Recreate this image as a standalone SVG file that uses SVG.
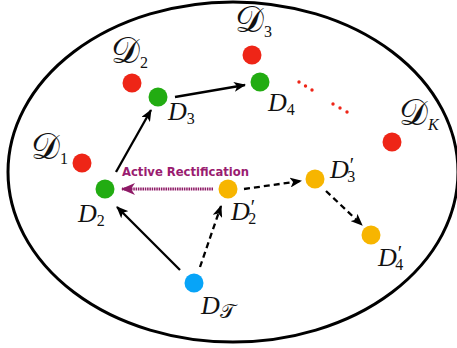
<svg xmlns="http://www.w3.org/2000/svg" width="457" height="348" viewBox="0 0 457 348">
  <defs>
    <marker id="ah" viewBox="0 0 12 10" refX="11" refY="5" markerWidth="12" markerHeight="10" markerUnits="userSpaceOnUse" orient="auto">
      <path d="M0,0 L12,5 L0,10 L3,5 Z" fill="#000"/>
    </marker>
    <marker id="ahp" viewBox="0 0 14 12" refX="13" refY="6" markerWidth="14" markerHeight="12" markerUnits="userSpaceOnUse" orient="auto">
      <path d="M0,0 L14,6 L0,12 L4,6 Z" fill="#8E1A66"/>
    </marker>
    <style>
      .red { fill: #EE2517; }
      .green { fill: #22AC12; }
      .yellow { fill: #F7B500; }
      .blue { fill: #07A4F8; }
      .solid { stroke: #000; stroke-width: 2.3; fill: none; marker-end: url(#ah); }
      .dash { stroke: #000; stroke-width: 2.3; fill: none; stroke-dasharray: 6 4; marker-end: url(#ah); }
      .lbl { font-family: "Liberation Serif", "DejaVu Serif", serif; font-style: italic; font-size: 26px; fill: #111; }
      .sub { font-size: 16px; font-style: normal; }
      .subi { font-size: 16px; }
      .pr { font-size: 20px; font-style: normal; }
      .cal { font-family: "DejaVu Serif", "Liberation Serif", serif; font-style: normal; font-size: 36px; }
      .note { font-family: "DejaVu Sans", sans-serif; font-weight: bold; font-size: 11.6px; fill: #9A1C70; }
      .ell { fill: #EE2517; }
    </style>
  </defs>

  <!-- outer region -->
  <ellipse cx="233" cy="172" rx="225" ry="170" fill="none" stroke="#000" stroke-width="3"/>

  <!-- connectors -->
  <g id="connectors">
    <line class="solid" x1="116" y1="172" x2="151" y2="110"/>
    <line class="solid" x1="175" y1="97" x2="245" y2="85"/>
    <line class="solid" x1="180" y1="270" x2="117" y2="207"/>
    <line class="dash" x1="200" y1="267" x2="221" y2="206"/>
    <line class="dash" x1="244" y1="189" x2="301" y2="181"/>
    <line class="dash" x1="326" y1="191" x2="362" y2="225"/>
    <line x1="213" y1="189" x2="122" y2="189" stroke="#8E1A66" stroke-width="3" stroke-dasharray="1.5 0.8" marker-end="url(#ahp)"/>
    <text class="note" x="122" y="176">Active Rectification</text>
    <!-- ellipsis between D4 and DK -->
    <g class="ell">
      <circle cx="299" cy="82" r="1.7"/>
      <circle cx="305.5" cy="86" r="1.7"/>
      <circle cx="312" cy="90" r="1.7"/>
      <circle cx="333" cy="104" r="1.7"/>
      <circle cx="340" cy="108" r="1.7"/>
      <circle cx="347" cy="112" r="1.7"/>
    </g>
  </g>

  <!-- nodes -->
  <g id="cD1"><circle class="red" cx="82" cy="163" r="9.5"/><text class="lbl" x="31" y="159"><tspan class="cal">𝒟</tspan><tspan class="sub" dy="5">1</tspan></text></g>
  <g id="cD2"><circle class="red" cx="132" cy="83" r="9.5"/><text class="lbl" x="111" y="63"><tspan class="cal">𝒟</tspan><tspan class="sub" dy="5">2</tspan></text></g>
  <g id="cD3"><circle class="red" cx="252" cy="55" r="9.5"/><text class="lbl" x="235" y="32"><tspan class="cal">𝒟</tspan><tspan class="sub" dy="5">3</tspan></text></g>
  <g id="cDK"><circle class="red" cx="392" cy="142" r="9.5"/><text class="lbl" x="399" y="125"><tspan class="cal">𝒟</tspan><tspan class="subi" dy="5">K</tspan></text></g>

  <g id="D2"><circle class="green" cx="105" cy="189" r="9.5"/><text class="lbl" x="78" y="222">D<tspan class="sub" dy="4">2</tspan></text></g>
  <g id="D3"><circle class="green" cx="158" cy="97" r="9.5"/><text class="lbl" x="168" y="120">D<tspan class="sub" dy="4">3</tspan></text></g>
  <g id="D4"><circle class="green" cx="260" cy="82" r="9.5"/><text class="lbl" x="268" y="111">D<tspan class="sub" dy="4">4</tspan></text></g>

  <g id="D2p"><circle class="yellow" cx="228" cy="189" r="9.5"/><text class="lbl" x="231" y="220">D<tspan class="pr" dx="1" dy="-6">′</tspan><tspan class="sub" dx="-7" dy="10">2</tspan></text></g>
  <g id="D3p"><circle class="yellow" cx="315" cy="179" r="9.5"/><text class="lbl" x="330" y="178">D<tspan class="pr" dx="1" dy="-6">′</tspan><tspan class="sub" dx="-7" dy="10">3</tspan></text></g>
  <g id="D4p"><circle class="yellow" cx="371" cy="235" r="9.5"/><text class="lbl" x="378" y="266">D<tspan class="pr" dx="1" dy="-6">′</tspan><tspan class="sub" dx="-7" dy="10">4</tspan></text></g>

  <g id="DT"><circle class="blue" cx="194" cy="283" r="9.5"/><text class="lbl" x="201" y="314">D<tspan class="subi cal" style="font-size:20px" dy="4">𝒯</tspan></text></g>
</svg>
